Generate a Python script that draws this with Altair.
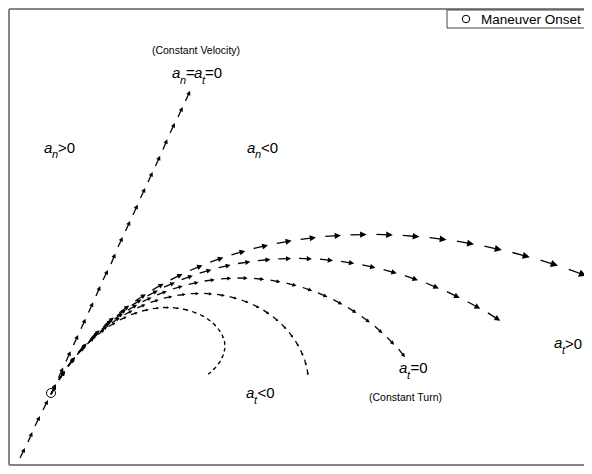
import math
import altair as alt
import pandas as pd

# ---------------- data: trajectory samples (one per time step) -----------------
# horizontal position and vertical position (vertical grows downward)
cv_x = [20, 28, 35, 43, 51, 58.5, 66, 73.5, 81, 88.5, 96, 103, 111, 118, 125.5, 133,
        140.5, 148, 155.5, 163, 170, 178, 185.5, 193]
cv_y = [458, 442, 426, 410, 394, 377.7, 361.4, 345, 328.8, 312.5, 296, 280, 264, 247,
        231, 215, 198, 182, 166, 149.5, 133, 117, 101, 84.5]

c5_x = [50.9, 58.9, 68.3, 79.1, 91.2, 104.6, 119.3, 135.2, 152.3, 170.5, 189.9, 210.2,
        231.5, 253.7, 276.8, 300.7, 325.3, 350.5, 376.4, 402.8, 429.6, 456.9, 484.5,
        512.4, 540.5, 568.8, 597.2]
c5_y = [394.2, 379.8, 365.6, 351.7, 338.2, 325.2, 312.8, 301, 290, 279.8, 270.5, 262.1,
        254.8, 248.5, 243.3, 239.3, 236.4, 234.8, 234.4, 235.4, 237.6, 241.2, 246.2,
        252.5, 260.2, 269.3, 279.8]

c4_x = [50.9, 58.9, 68.2, 78.7, 90.3, 103.1, 116.9, 131.7, 147.5, 164.1, 181.6, 199.7,
        218.6, 238, 257.9, 278.3, 299, 319.9, 341.1, 362.3, 383.6, 404.9, 426, 446.9,
        467.6, 487.9, 507.8]
c4_y = [394.2, 379.8, 365.8, 352.3, 339.5, 327.3, 315.9, 305.4, 295.8, 287.2, 279.6, 273.1,
        267.7, 263.5, 260.6, 258.9, 258.4, 259.2, 261.4, 264.8, 269.6, 275.6, 283, 291.7,
        301.7, 312.9, 325.4]

c3_x = [50.9, 59, 68.1, 78.2, 89.3, 101.6, 114.5, 128, 142.5, 157.1, 172.8, 188.7, 204.6,
        221.1, 237.5, 254, 270.5, 286.6, 302.7, 318, 333.3, 347.9, 361.7, 374.8, 387.1,
        398.6, 409]
c3_y = [394.2, 379.6, 366, 352.8, 341, 329.5, 319.1, 310, 301.7, 294.8, 289, 284.3, 281,
        278.8, 278, 278.4, 280.1, 283.1, 287.5, 292.8, 299.6, 307.5, 316.4, 326.3, 337.4,
        349.2, 362.2]

c2_x = [50.9, 58.9, 67.9, 77.8, 88.5, 99.9, 111.9, 124.4, 137.3, 150.5, 163.9, 177.4,
        190.8, 204.1, 217.1, 229.6, 241.6, 252.9, 263.4, 273, 281.6, 289.1, 295.5, 300.7,
        304.6, 307.2, 308.5]
c2_y = [394.2, 379.8, 366.3, 353.8, 342.3, 331.9, 322.7, 314.7, 307.9, 302.4, 298.2, 295.3,
        293.7, 293.4, 294.4, 296.6, 300, 304.5, 310.1, 316.7, 324.1, 332.3, 341, 350.2,
        359.7, 369.4, 379]

c1_x = [50.9, 58.9, 67.7, 77.2, 87.3, 97.8, 108.7, 119.8, 131, 142.1, 152.9, 163, 173,
        183, 192, 200, 207, 213, 218, 222, 224.5, 225, 223.5, 220.5, 216, 211, 206]
c1_y = [394.2, 379.8, 366.6, 354.6, 343.9, 334.5, 326.5, 319.9, 314.7, 311, 308.6, 307.5,
        307.6, 309, 311.5, 314.5, 318.5, 323, 328.5, 334.5, 341, 348, 354.5, 361, 367, 372,
        376]

onset_x = [51]
onset_y = [393]

legend_label = ["Maneuver Onset"]

HEAD_FRAC = 0.62   # arrow length relative to the step between samples
HEAD_LEN = 0.40    # arrowhead length relative to the arrow length


def arrows(xs, ys, name):
    rows = []
    for i in range(len(xs) - 1):
        dx = (xs[i + 1] - xs[i]) * HEAD_FRAC
        dy = (ys[i + 1] - ys[i]) * HEAD_FRAC
        L = math.hypot(dx, dy)
        hl = HEAD_LEN * L
        ux, uy = dx / L, dy / L
        rows.append(dict(
            traj=name, x=xs[i], y=ys[i],
            x2=xs[i] + dx - 0.5 * hl * ux, y2=ys[i] + dy - 0.5 * hl * uy,
            hx=xs[i] + dx, hy=ys[i] + dy,
            ang=math.degrees(math.atan2(dx, -dy)) % 360,
            hs=(2 * hl) ** 2,
        ))
    return rows


rows = []
for xs, ys, nm in [(cv_x, cv_y, "cv"), (c5_x, c5_y, "c5"), (c4_x, c4_y, "c4"),
                   (c3_x, c3_y, "c3"), (c2_x, c2_y, "c2"), (c1_x, c1_y, "c1")]:
    rows += arrows(xs, ys, nm)
arr = pd.DataFrame(rows)

XS = alt.Scale(domain=[8, 584], nice=False, zero=False)
YS = alt.Scale(domain=[8, 466], nice=False, zero=False, reverse=True)


def X(f):
    return alt.X(f, type="quantitative", scale=XS, axis=None)


def Y(f):
    return alt.Y(f, type="quantitative", scale=YS, axis=None)


shafts = alt.Chart(arr).mark_rule(color="black", strokeWidth=1.3).encode(
    x=X("x"), y=Y("y"), x2="x2", y2="y2")

heads = alt.Chart(arr).mark_point(
    shape="M0,0L-0.5,1L0.5,1Z", filled=True, color="black", opacity=1, strokeWidth=0
).encode(x=X("hx"), y=Y("hy"),
         angle=alt.Angle("ang:Q", scale=None),
         size=alt.Size("hs:Q", scale=None))

onset = alt.Chart(pd.DataFrame({"x": onset_x, "y": onset_y})).mark_point(
    shape="circle", filled=False, color="black", size=81, strokeWidth=1, opacity=1
).encode(x=X("x"), y=Y("y"))

# frame
frame_df = pd.DataFrame({
    "x": [9, 9, 9], "y": [9, 9, 465],
    "x2": [9, 584, 584], "y2": [465, 9, 465]})
frame = alt.Chart(frame_df).mark_rule(color="#858585", strokeWidth=2).encode(
    x=X("x"), y=Y("y"), x2="x2", y2="y2")

# legend
leg_box = alt.Chart(pd.DataFrame({"x": [447], "x2": [600], "y": [10], "y2": [28]})).mark_rect(
    fill="white", stroke="#444", strokeWidth=1).encode(x=X("x"), x2="x2", y=Y("y"), y2="y2")
leg_sym = alt.Chart(pd.DataFrame({"x": [466], "y": [19]})).mark_point(
    shape="circle", filled=False, color="black", size=56, strokeWidth=1, opacity=1
).encode(x=X("x"), y=Y("y"))
leg_txt = alt.Chart(pd.DataFrame({"x": [481], "y": [24], "t": legend_label})).mark_text(
    align="left", baseline="alphabetic", font="Liberation Sans", fontSize=13.5, color="black"
).encode(x=X("x"), y=Y("y"), text="t:N")

# annotations: italic pieces, upright pieces
ital = pd.DataFrame({
    "x": [44, 52, 172, 180, 194, 202, 247, 255, 399, 407, 246, 254, 554, 562],
    "y": [152.5, 158, 78, 83.5, 78, 83.5, 152.5, 158, 373, 378.5, 398, 403.5, 348, 353.5],
    "t": ["a", "n", "a", "n", "a", "t", "a", "n", "a", "t", "a", "t", "a", "t"],
    "s": [15, 11, 15, 11, 15, 11, 15, 11, 15, 11, 15, 11, 15, 11],
})
upr = pd.DataFrame({
    "x": [58, 186, 205, 261, 410.5, 257.5, 565, 196, 405.5],
    "y": [153, 78, 78, 153, 373, 398, 349, 54, 401],
    "t": [">0", "=", "=0", "<0", "=0", "<0", ">0", "(Constant Velocity)", "(Constant Turn)"],
    "s": [15, 15, 15, 15, 15, 15, 15, 10.5, 10.5],
    "al": ["left"] * 7 + ["center", "center"],
})

t_ital = alt.Chart(ital).mark_text(
    align="left", baseline="alphabetic", font="Liberation Sans", fontStyle="italic",
    color="black").encode(x=X("x"), y=Y("y"), text="t:N", size=alt.Size("s:Q", scale=None))
t_upr_l = alt.Chart(upr[upr["al"] == "left"]).mark_text(
    align="left", baseline="alphabetic", font="Liberation Sans", color="black"
).encode(x=X("x"), y=Y("y"), text="t:N", size=alt.Size("s:Q", scale=None))
t_upr_c = alt.Chart(upr[upr["al"] == "center"]).mark_text(
    align="center", baseline="alphabetic", font="Liberation Sans", color="black"
).encode(x=X("x"), y=Y("y"), text="t:N", size=alt.Size("s:Q", scale=None))

chart = alt.layer(
    frame, shafts, heads, onset, leg_box, leg_sym, leg_txt, t_ital, t_upr_l, t_upr_c
).properties(
    width=576, height=458, autosize=alt.AutoSizeParams(type="none"), padding=0,
    background="white"
).configure_view(stroke=None)

chart.save("out.html", embed_options={"renderer": "svg", "actions": False})
